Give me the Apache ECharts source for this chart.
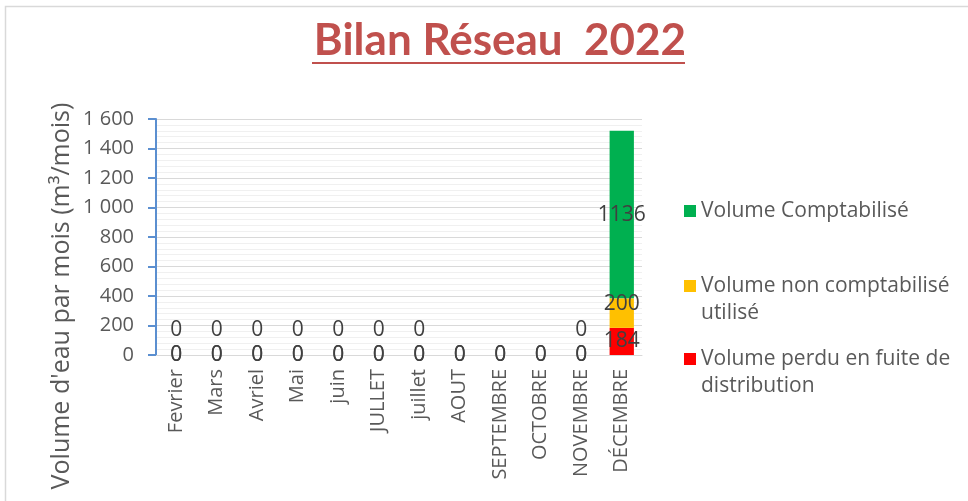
<!DOCTYPE html>
<html>
<head>
<meta charset="utf-8">
<script src="https://cdn.jsdelivr.net/npm/echarts@6/dist/echarts.min.js"></script>
<style>
  html, body { margin: 0; padding: 0; background: #fff; }
  #chart { width: 968px; height: 501px; }
</style>
</head>
<body>
<div id="chart"></div>
<script>
// données du bilan
var mois = ['Fevrier', 'Mars', 'Avriel', 'Mai', 'juin', 'JULLET', 'juillet', 'AOUT', 'SEPTEMBRE', 'OCTOBRE', 'NOVEMBRE', 'DÉCEMBRE'];
var volumePerdu = [0, 0, 0, 0, 0, 0, 0, 0, 0, 0, 0, 184];
var volumeNonCompta = [0, 0, 0, 0, 0, 0, 0, null, null, null, 0, 200];
var volumeCompta = [0, 0, 0, 0, 0, 0, 0, 0, 0, 0, 0, 1136];

var nomCompta = 'Volume Comptabilisé';
var nomNonCompta = 'Volume non comptabilisé\nutilisé';
var nomPerdu = 'Volume perdu en fuite de\ndistribution';

var police = 'Open Sans';
var gris = '#595959';

function milliers(v) {
    return String(v).replace(/\B(?=(\d{3})+(?!\d))/g, ' ');
}

var labelBase = {
    show: true,
    position: 'inside',
    color: '#404040',
    fontFamily: police,
    fontSize: 21
};

var texteLegende = { color: gris, fontFamily: police, fontSize: 21, lineHeight: 27 };

var myChart = echarts.init(document.getElementById('chart'));

var option = {
    animation: false,
    backgroundColor: '#fff',
    grid: { left: 156, right: 326, top: 119, bottom: 146 },
    legend: [
        {
            orient: 'vertical',
            left: 684,
            top: 197.5,
            padding: 0,
            itemWidth: 12,
            itemHeight: 12,
            icon: 'rect',
            selectedMode: false,
            textStyle: texteLegende,
            data: [nomCompta]
        },
        {
            // case de couleur en face de la premiere ligne du texte
            orient: 'vertical',
            left: 684,
            top: 272.5,
            padding: 0,
            itemWidth: 12,
            itemHeight: 54,
            itemGap: 19,
            icon: 'path://M0,0M0,54M0,7.5h12v12h-12z',
            selectedMode: false,
            textStyle: texteLegende,
            data: [nomNonCompta, nomPerdu]
        }
    ],
    xAxis: {
        type: 'category',
        data: mois,
        axisLine: { lineStyle: { color: '#d9d9d9' } },
        axisTick: { show: false },
        axisLabel: { interval: 0, rotate: 90, color: gris, fontFamily: police, fontSize: 20, margin: 14 }
    },
    yAxis: {
        type: 'value',
        min: 0,
        max: 1600,
        interval: 200,
        axisLine: { show: true, lineStyle: { color: '#5b8fd0', width: 2 } },
        axisTick: { show: true, length: 8, lineStyle: { color: '#5b8fd0', width: 2 } },
        axisLabel: { color: gris, fontFamily: police, fontSize: 20, margin: 22, formatter: milliers },
        splitLine: { lineStyle: { color: '#d9d9d9' } },
        minorTick: { show: false, splitNumber: 5 },
        minorSplitLine: { show: true, lineStyle: { color: '#f0f0f0' } }
    },
    graphic: [
        {
            type: 'rect',
            shape: { x: 5.5, y: 6.5, width: 1200, height: 1000 },
            style: { fill: 'none', stroke: '#d9d9d9', lineWidth: 1.5 },
            silent: true
        },
        {
            type: 'text',
            x: 500,
            y: 41,
            style: {
                text: 'Bilan Réseau  2022',
                fill: '#c0504d',
                font: 'bold 44px Lato',
                align: 'center',
                verticalAlign: 'middle'
            }
        },
        {
            type: 'rect',
            shape: { x: 312, y: 62, width: 373, height: 2 },
            style: { fill: '#c0504d' },
            silent: true
        },
        {
            type: 'text',
            x: 62,
            y: 296,
            rotation: Math.PI / 2,
            style: {
                text: "Volume d'eau par mois (m³/mois)",
                fill: gris,
                font: '25px "Open Sans"',
                align: 'center',
                verticalAlign: 'middle'
            }
        }
    ],
    series: [
        {
            name: nomPerdu,
            type: 'bar',
            stack: 'total',
            barWidth: '60%',
            itemStyle: { color: '#ff0000' },
            label: labelBase,
            data: volumePerdu
        },
        {
            name: nomNonCompta,
            type: 'bar',
            stack: 'total',
            itemStyle: { color: '#ffc000' },
            label: labelBase,
            data: volumeNonCompta.map(function (v) {
                return { value: v, label: { offset: [0, v === 0 ? -25 : -9] } };
            })
        },
        {
            name: nomCompta,
            type: 'bar',
            stack: 'total',
            itemStyle: { color: '#00b050' },
            label: labelBase,
            data: volumeCompta
        }
    ]
};

myChart.setOption(option);
</script>
</body>
</html>
